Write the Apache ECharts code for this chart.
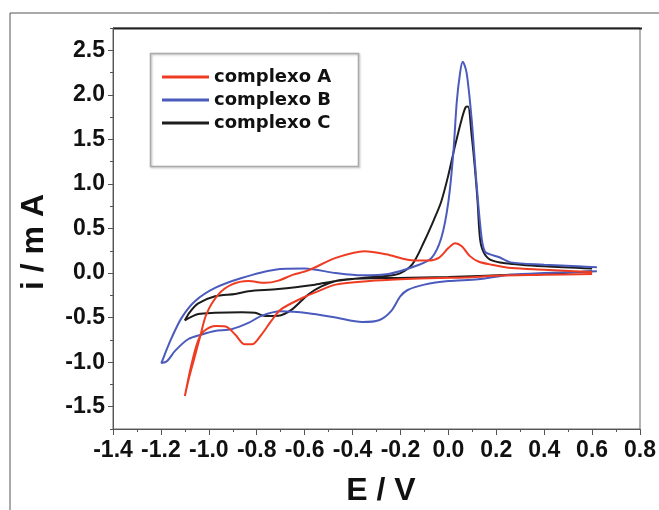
<!DOCTYPE html>
<html><head><meta charset="utf-8">
<script src="https://cdn.jsdelivr.net/npm/echarts@6/dist/echarts.min.js"></script>
<style>html,body{margin:0;padding:0;background:#fff;}#c{width:659px;height:510px;}</style>
</head><body><div id="c"></div>
<script>
// complexo A
const eA = [0.60, 0.40, 0.20, 0.07, -0.04, -0.20, -0.33, -0.47, -0.54, -0.61, -0.70, -0.74, -0.78, -0.82, -0.85, -0.89, -0.93, -0.97, -1.02, -1.045, -1.072, -1.10, -1.085, -1.06, -1.035, -1.01, -0.96, -0.905, -0.835, -0.765, -0.71, -0.65, -0.585, -0.47, -0.35, -0.26, -0.17, -0.085, -0.04, 0.0, 0.028, 0.056, 0.09, 0.125, 0.18, 0.265, 0.40, 0.60];
const iA = [-0.01, -0.02, -0.03, -0.05, -0.055, -0.07, -0.09, -0.13, -0.20, -0.28, -0.41, -0.54, -0.69, -0.80, -0.80, -0.69, -0.60, -0.595, -0.65, -0.76, -1.02, -1.38, -1.20, -0.95, -0.70, -0.46, -0.24, -0.13, -0.09, -0.11, -0.085, -0.02, 0.03, 0.17, 0.245, 0.21, 0.15, 0.14, 0.17, 0.28, 0.335, 0.30, 0.19, 0.13, 0.094, 0.056, 0.038, 0.01];
// complexo B
const eB = [0.62, 0.40, 0.26, 0.125, 0.0, -0.10, -0.17, -0.20, -0.24, -0.29, -0.36, -0.47, -0.585, -0.70, -0.78, -0.835, -0.905, -0.975, -1.03, -1.085, -1.14, -1.175, -1.198, -1.185, -1.155, -1.113, -1.058, -0.974, -0.863, -0.724, -0.60, -0.47, -0.36, -0.25, -0.125, -0.07, -0.03, 0.0, 0.021, 0.035, 0.049, 0.06, 0.076, 0.097, 0.118, 0.139, 0.153, 0.174, 0.21, 0.26, 0.40, 0.54, 0.62];
const iB = [0.02, 0.0, -0.02, -0.07, -0.09, -0.13, -0.19, -0.26, -0.43, -0.53, -0.55, -0.50, -0.45, -0.43, -0.48, -0.56, -0.63, -0.65, -0.69, -0.74, -0.87, -0.99, -1.01, -0.92, -0.725, -0.50, -0.316, -0.167, -0.055, 0.038, 0.05, 0.0, -0.025, -0.01, 0.09, 0.17, 0.39, 0.80, 1.36, 1.92, 2.25, 2.37, 2.25, 1.73, 0.99, 0.39, 0.24, 0.21, 0.18, 0.12, 0.094, 0.075, 0.064];
// complexo C
const eC = [0.60, 0.40, 0.26, 0.0, -0.21, -0.36, -0.42, -0.47, -0.53, -0.585, -0.654, -0.71, -0.765, -0.807, -0.863, -0.974, -1.044, -1.10, -1.08, -1.044, -0.974, -0.89, -0.835, -0.71, -0.557, -0.47, -0.36, -0.25, -0.20, -0.15, -0.10, -0.06, -0.03, 0.0, 0.028, 0.056, 0.072, 0.082, 0.097, 0.111, 0.122, 0.132, 0.146, 0.174, 0.237, 0.40, 0.60];
const iC = [0.02, -0.01, -0.02, -0.045, -0.055, -0.06, -0.07, -0.09, -0.15, -0.24, -0.41, -0.48, -0.483, -0.446, -0.44, -0.446, -0.46, -0.53, -0.44, -0.34, -0.26, -0.234, -0.204, -0.18, -0.13, -0.09, -0.055, -0.03, 0.0, 0.10, 0.36, 0.60, 0.80, 1.10, 1.43, 1.73, 1.86, 1.87, 1.55, 1.17, 0.80, 0.39, 0.24, 0.15, 0.11, 0.075, 0.05];

const names = ['complexo A', 'complexo B', 'complexo C'];
const colors = ['#ef3b22', '#4b5bbd', '#1c1c1c'];
const yMajor = [-1.5, -1.0, -0.5, 0.0, 0.5, 1.0, 1.5, 2.0, 2.5];
const yMinor = [-1.75, -1.25, -0.75, -0.25, 0.25, 0.75, 1.25, 1.75, 2.25, 2.75];
const xTitle = 'E / V';
const yTitle = 'i / m A';

const zip = (e, i) => e.map((v, k) => [v, i[k]]);
const seriesData = [zip(eA, iA), zip(eB, iB), zip(eC, iC)];

const tickFont = {fontFamily: "'Liberation Sans Narrow', 'Liberation Sans', Arial, sans-serif", fontWeight: 'bold', fontSize: 23, color: '#111'};

const chart = echarts.init(document.getElementById('c'), null, {renderer: 'canvas'});
chart.setOption({
  animation: false,
  backgroundColor: '#fff',
  grid: {left: 113, right: 17, top: 28, bottom: 81, show: true, borderColor: '#666', borderWidth: 1, backgroundColor: 'transparent'},
  xAxis: {
    type: 'value', min: -1.4, max: 0.8, interval: 0.2,
    axisLine: {onZero: false, lineStyle: {color: '#555', width: 1}},
    axisTick: {show: true, inside: false, length: 6, lineStyle: {color: '#555'}},
    minorTick: {show: true, splitNumber: 2, length: 3, lineStyle: {color: '#555'}},
    axisLabel: Object.assign({margin: 10, formatter: v => v.toFixed(1)}, tickFont),
    splitLine: {show: false}
  },
  yAxis: [{
    type: 'value', min: -1.75, max: 2.75,
    axisLine: {show: true, onZero: false, lineStyle: {color: '#555', width: 1}},
    axisTick: {show: true, length: 5, customValues: yMajor, lineStyle: {color: '#555'}},
    axisLabel: Object.assign({margin: 8, customValues: yMajor, formatter: v => v.toFixed(1)}, tickFont),
    splitLine: {show: false}
  }, {
    type: 'value', min: -1.75, max: 2.75, position: 'left',
    axisLine: {show: false, onZero: false},
    axisTick: {show: true, length: 3, customValues: yMinor, lineStyle: {color: '#555'}},
    axisLabel: {show: false},
    splitLine: {show: false}
  }],
  legend: {
    orient: 'vertical', left: 157, top: 63,
    itemWidth: 47, itemHeight: 3, itemGap: 5,
    icon: 'rect',
    data: names,
    textStyle: {fontFamily: "'DejaVu Sans', sans-serif", fontWeight: 'bold', fontSize: 18, color: '#111', lineHeight: 18, padding: [0, 0, 0, 0]}
  },
  series: names.map((n, k) => ({
    name: n, type: 'line', data: seriesData[k], showSymbol: false, symbol: 'none',
    smooth: 0.3, lineStyle: {color: colors[k], width: 2}, itemStyle: {color: colors[k]},
    z: 3 - k
  })),
  graphic: [
    {type: 'polyline', shape: {points: [[10, 510], [10, 13], [659, 13]]}, style: {stroke: '#555', lineWidth: 1, fill: null}},
    {type: 'line', shape: {x1: 113, y1: 28.5, x2: 642, y2: 28.5}, style: {stroke: '#222', lineWidth: 2}},
    {type: 'rect', shape: {x: 150.5, y: 53.5, width: 208, height: 113}, style: {fill: 'rgba(0,0,0,0)', stroke: '#aaa', lineWidth: 1.5, shadowBlur: 2, shadowColor: 'rgba(0,0,0,0.25)', shadowOffsetX: 1, shadowOffsetY: 1}, z: 10},
    {type: 'text', x: 381, y: 491, style: {text: xTitle, fontFamily: "'Liberation Sans', Arial, sans-serif", fontWeight: 'bold', fontSize: 32, fill: '#111', align: 'center', verticalAlign: 'middle'}},
    {type: 'text', x: 34, y: 242, rotation: Math.PI / 2, style: {text: yTitle, fontFamily: "'Liberation Sans', Arial, sans-serif", fontWeight: 'bold', fontSize: 32, fill: '#111', align: 'center', verticalAlign: 'middle'}}
  ]
});
</script></body></html>
